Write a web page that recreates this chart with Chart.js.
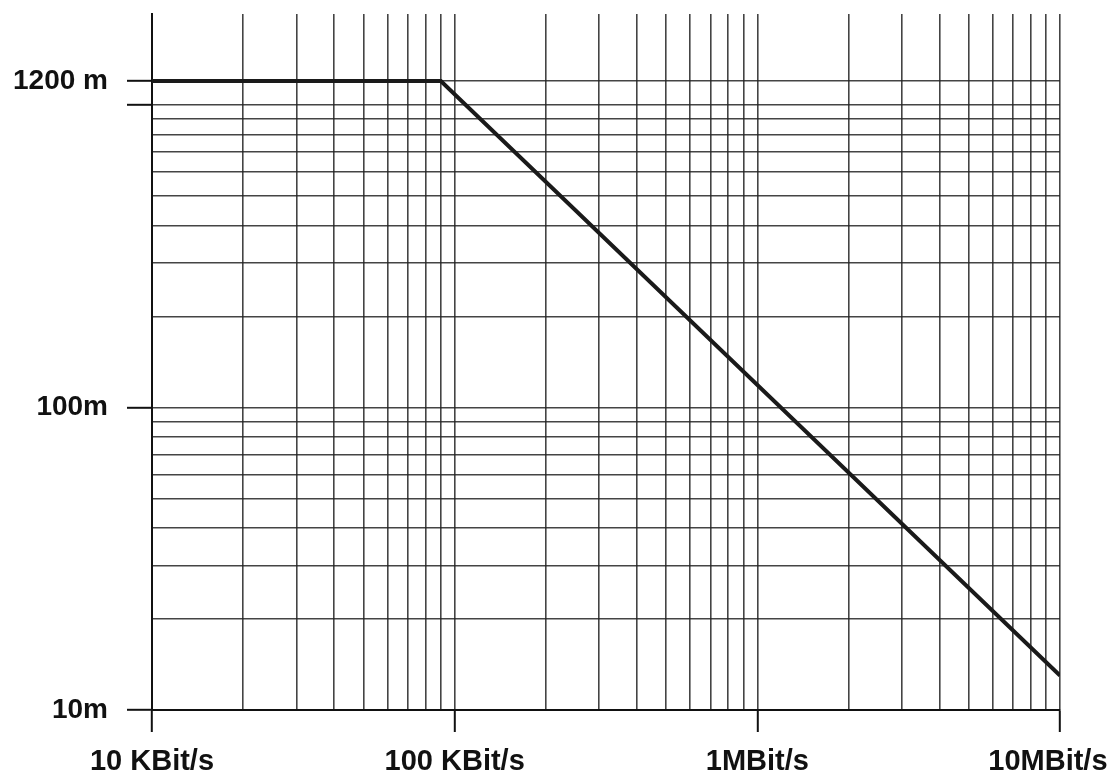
<!DOCTYPE html>
<html>
<head>
<meta charset="utf-8">
<script src="https://cdn.jsdelivr.net/npm/chart.js@4"></script>
<style>
  body { margin: 0; background: #fff; }
  .wrap { width: 1110px; height: 776px; }
</style>
</head>
<body>
<div class="wrap"><canvas id="chart"></canvas></div>
<script>
// bit rate (bit/s) vs. max cable length (m)
const rates = [10000, 90000, 10000000];
const lengths = [1200, 1200, 13];

const xTickValues = [10000, 20000, 30000, 40000, 50000, 60000, 70000, 80000, 90000,
  100000, 200000, 300000, 400000, 500000, 600000, 700000, 800000, 900000,
  1000000, 2000000, 3000000, 4000000, 5000000, 6000000, 7000000, 8000000, 9000000,
  10000000];
const xLabelValues = [10000, 100000, 1000000, 10000000];
// trailing spaces on the last one keep it inside the page like in the scan
const xLabelTexts = ['10 KBit/s', '100 KBit/s', '1MBit/s', '10MBit/s   '];

const yTickValues = [10, 20, 30, 40, 50, 60, 70, 80, 90,
  100, 200, 300, 400, 500, 600, 700, 800, 900, 1000, 1200];
const yLabelValues = [10, 100, 1200];
const yLabelTexts = ['10m', '100m', '1200 m'];
const yMarkValues = [10, 100, 1000, 1200];

const gridColor = 'rgba(35,35,35,0.85)';
const font = { family: '"Liberation Sans", Arial, sans-serif', weight: 'bold' };

const ctx = document.getElementById('chart').getContext('2d');
new Chart(ctx, {
  type: 'line',
  data: {
    datasets: [{
      data: rates.map((r, i) => ({ x: r, y: lengths[i] })),
      borderColor: '#1a1a1a',
      borderWidth: 4,
      pointRadius: 0,
      tension: 0
    }]
  },
  options: {
    responsive: true,
    maintainAspectRatio: false,
    animation: false,
    layout: { padding: { top: 14, right: 50, left: 0, bottom: 0 } },
    plugins: { legend: { display: false }, tooltip: { enabled: false } },
    scales: {
      x: {
        type: 'logarithmic',
        min: 10000,
        max: 10000000,
        afterBuildTicks: s => { s.ticks = xTickValues.map(v => ({ value: v })); },
        afterFit: s => { s.height = 66; s.paddingLeft = 0; s.paddingRight = 0; },
        ticks: {
          autoSkip: false,
          maxRotation: 0,
          padding: 13,
          color: '#111',
          font: { ...font, size: 29 },
          callback: v => {
            const i = xLabelValues.indexOf(v);
            return i >= 0 ? xLabelTexts[i] : '';
          }
        },
        grid: {
          color: gridColor,
          lineWidth: 1.6,
          tickLength: 22,
          tickWidth: 2,
          tickColor: c => xLabelValues.includes(c.tick && c.tick.value) ? '#111' : 'rgba(0,0,0,0)'
        },
        border: { display: true, color: '#111', width: 2 }
      },
      y: {
        type: 'logarithmic',
        min: 10,
        max: 2000,
        afterBuildTicks: s => { s.ticks = yTickValues.map(v => ({ value: v })); },
        afterFit: s => { s.width = 152; s.paddingTop = 0; s.paddingBottom = 0; },
        ticks: {
          autoSkip: false,
          padding: 19,
          color: '#111',
          font: { ...font, size: 28 },
          callback: v => {
            const i = yLabelValues.indexOf(v);
            return i >= 0 ? yLabelTexts[i] : '';
          }
        },
        grid: {
          color: gridColor,
          lineWidth: 1.6,
          tickLength: 25,
          tickWidth: 2,
          tickColor: c => yMarkValues.includes(c.tick && c.tick.value) ? '#111' : 'rgba(0,0,0,0)'
        },
        border: { display: true, color: '#111', width: 2 }
      }
    }
  }
});
</script>
</body>
</html>
